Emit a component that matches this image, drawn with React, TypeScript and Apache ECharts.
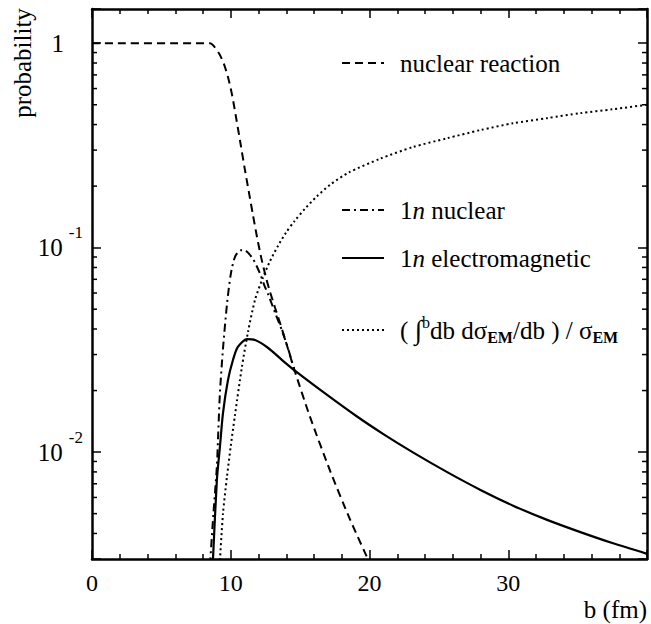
import React, { useEffect, useRef } from 'react';
import * as echarts from 'echarts';

const FONT = '"Liberation Serif", "Times New Roman", serif';

// b (fm) and probability values
const nuclearB = [0, 8.5, 8.86, 9.2, 9.5, 9.8, 10.1, 10.4, 10.7, 11.0, 11.3, 11.6, 11.9, 12.2, 12.5, 12.8, 13.2, 13.7, 14.6, 15.7, 17.15, 18.6, 20.0];
const nuclearP = [1, 1, 0.955, 0.881, 0.794, 0.684, 0.556, 0.427, 0.324, 0.245, 0.188, 0.1445, 0.112, 0.0891, 0.0733, 0.0617, 0.0507, 0.0398, 0.0251, 0.01496, 0.00813, 0.00468, 0.00288];

const oneNNuclearB = [8.5, 8.75, 9.0, 9.1, 9.22, 9.44, 9.73, 10.0, 10.3, 10.7, 11.0, 11.6, 12.1, 12.4, 12.7, 13.2, 13.7, 14.2, 14.6];
const oneNNuclearP = [0.0028, 0.005, 0.0085, 0.0125, 0.0195, 0.032, 0.053, 0.074, 0.09, 0.097, 0.097, 0.088, 0.075, 0.066, 0.059, 0.048, 0.0392, 0.031, 0.0248];

const oneNEmB = [8.7, 9.0, 9.22, 9.44, 9.8, 10.16, 10.5, 11.17, 11.75, 12.7, 13.7, 14.6, 16.65, 19.1, 21.0, 23.1, 25.6, 28.0, 30.35, 32.8, 35.2, 37.5, 40];
const oneNEmP = [0.0028, 0.0073, 0.0106, 0.0155, 0.0225, 0.0282, 0.0326, 0.0357, 0.0353, 0.0323, 0.0282, 0.0251, 0.0197, 0.01493, 0.01225, 0.01, 0.00798, 0.00653, 0.00547, 0.00466, 0.00406, 0.00359, 0.00318];

const cumulB = [9.2, 9.44, 9.73, 10.0, 10.3, 10.8, 11.25, 11.75, 12.3, 12.8, 13.4, 14.0, 14.6, 15.35, 16.2, 17.2, 18.5, 20.75, 23.1, 25.6, 28, 30.35, 32.8, 35.2, 37.5, 40];
const cumulP = [0.0028, 0.005, 0.0076, 0.0107, 0.0151, 0.026, 0.0389, 0.0556, 0.0708, 0.0851, 0.102, 0.119, 0.135, 0.155, 0.178, 0.204, 0.233, 0.272, 0.31, 0.343, 0.376, 0.406, 0.43, 0.455, 0.475, 0.5];

const xMin = 0;
const xMax = 40;
const yMin = 0.003;
const yMax = 1.47;
const yMinorTicks = [0.004, 0.005, 0.006, 0.007, 0.008, 0.009, 0.02, 0.03, 0.04, 0.05, 0.06, 0.07, 0.08, 0.09, 0.2, 0.3, 0.4, 0.5, 0.6, 0.7, 0.8, 0.9];

const zip = (xs: number[], ys: number[]) => xs.map((x, i) => [x, ys[i]]);

export default function App() {
  const ref = useRef<HTMLDivElement>(null);
  useEffect(() => {
    const chart = echarts.init(ref.current!, null, { renderer: 'svg' });
    const black = '#000';
    const tickStyle = { color: black, width: 1.5 };
    const xAxisBase = {
      type: 'value',
      min: xMin,
      max: xMax,
      interval: 10,
      axisLine: { show: true, onZero: false, lineStyle: { color: black, width: 2.5 } },
      axisTick: { show: true, inside: true, length: 9, lineStyle: tickStyle },
      minorTick: { show: true, splitNumber: 5, length: 5, lineStyle: tickStyle },
      splitLine: { show: false },
      minorSplitLine: { show: false },
    };
    const yAxisBase = {
      type: 'log',
      logBase: 10,
      min: yMin,
      max: yMax,
      axisLine: { show: true, onZero: false, lineStyle: { color: black, width: 2.5 } },
      axisTick: { show: true, inside: true, length: 9, lineStyle: tickStyle },
      splitLine: { show: false },
    };
    const txt = { fontFamily: FONT, fill: black };
    const legendRow = (y: number, dash: number[] | null, label: any) => [
      {
        type: 'line',
        shape: { x1: 342, y1: y, x2: 384, y2: y },
        style: { stroke: black, lineWidth: 2, lineDash: dash || undefined },
      },
      {
        type: 'text',
        x: 400,
        y,
        style: { ...txt, fontSize: 25, verticalAlign: 'middle', align: 'left', ...label },
      },
    ];
    const richBase = {
      it: { fontFamily: FONT, fontSize: 25, fontStyle: 'italic', color: black },
      sup: { fontFamily: FONT, fontSize: 16, color: black, padding: [0, 0, 16, 0] },
      sub: { fontFamily: FONT, fontSize: 16, fontWeight: 'bold', color: black, padding: [14, 0, 0, 0] },
      int: { fontFamily: FONT, fontSize: 27, color: black },
    };
    const lineCommon = { type: 'line', showSymbol: false, smooth: 0.25 };
    const option: any = {
      animation: false,
      grid: { left: 92, right: 4, top: 9, bottom: 65 },
      xAxis: [
        {
          ...xAxisBase,
          position: 'bottom',
          axisLabel: {
            margin: 12,
            color: black,
            fontFamily: FONT,
            fontSize: 24,
            formatter: (v: number) => (v === 40 ? '' : String(v)),
          },
        },
        { ...xAxisBase, position: 'top', axisLabel: { show: false } },
      ],
      yAxis: [
        {
          ...yAxisBase,
          position: 'left',
          axisLabel: {
            margin: 9,
            color: black,
            formatter: (v: number) => {
              const e = Math.log10(v);
              const r = Math.round(e);
              if (Math.abs(e - r) > 1e-6) return '';
              if (r === 0) return '{one|1}';
              return '{base|10}{sup|' + r + '}';
            },
            rich: {
              one: { fontFamily: FONT, fontSize: 25, color: black, padding: [0, 19, 0, 0] },
              base: { fontFamily: FONT, fontSize: 25, color: black },
              sup: { fontFamily: FONT, fontSize: 17, color: black, padding: [0, 0, 30, 6] },
            },
          },
        },
        { ...yAxisBase, position: 'right', axisLabel: { show: false } },
      ],
      series: [
        {
          ...lineCommon,
          name: 'nuclear reaction',
          data: zip(nuclearB, nuclearP),
          lineStyle: { color: black, width: 2, type: [8, 5] },
        },
        {
          ...lineCommon,
          name: '1n nuclear',
          data: zip(oneNNuclearB, oneNNuclearP),
          lineStyle: { color: black, width: 2, type: [8, 4, 2, 4] },
        },
        {
          ...lineCommon,
          name: '1n electromagnetic',
          data: zip(oneNEmB, oneNEmP),
          lineStyle: { color: black, width: 2.2, type: 'solid' },
        },
        {
          ...lineCommon,
          name: 'cumulative EM',
          data: zip(cumulB, cumulP),
          lineStyle: { color: black, width: 2, type: [2, 3] },
        },
        {
          type: 'custom',
          silent: true,
          xAxisIndex: 0,
          yAxisIndex: 0,
          clip: false,
          data: yMinorTicks.map((v) => [xMin, v]),
          renderItem: (_p: any, api: any) => {
            const v = api.value(1);
            const l = api.coord([xMin, v]);
            const r = api.coord([xMax, v]);
            return {
              type: 'group',
              children: [
                { type: 'line', shape: { x1: l[0], y1: l[1], x2: l[0] + 5, y2: l[1] }, style: { stroke: black, lineWidth: 1.5 } },
                { type: 'line', shape: { x1: r[0], y1: r[1], x2: r[0] - 5, y2: r[1] }, style: { stroke: black, lineWidth: 1.5 } },
              ],
            };
          },
        },
      ],
      graphic: [
        ...legendRow(63, [8, 5], { text: 'nuclear reaction' }),
        ...legendRow(210, [8, 4, 2, 4], { text: '1{it|n} nuclear', rich: richBase }),
        ...legendRow(258, null, { text: '1{it|n} electromagnetic', rich: richBase }),
        ...legendRow(330, [2, 3], { text: '( {int|∫}{sup|b}db dσ{sub|EM}/db ) / σ{sub|EM}', rich: richBase }),
        {
          type: 'text',
          x: 647,
          y: 609,
          style: { ...txt, fontSize: 25, text: 'b (fm)', align: 'right', verticalAlign: 'middle' },
        },
        {
          type: 'text',
          x: 22,
          y: 63,
          rotation: Math.PI / 2,
          style: { ...txt, fontSize: 25, text: 'probability', align: 'center', verticalAlign: 'middle' },
        },
      ],
    };
    chart.setOption(option);
    return () => chart.dispose();
  }, []);
  return <div ref={ref} style={{ position: 'absolute', left: 0, top: 0, width: 651, height: 624 }} />;
}
